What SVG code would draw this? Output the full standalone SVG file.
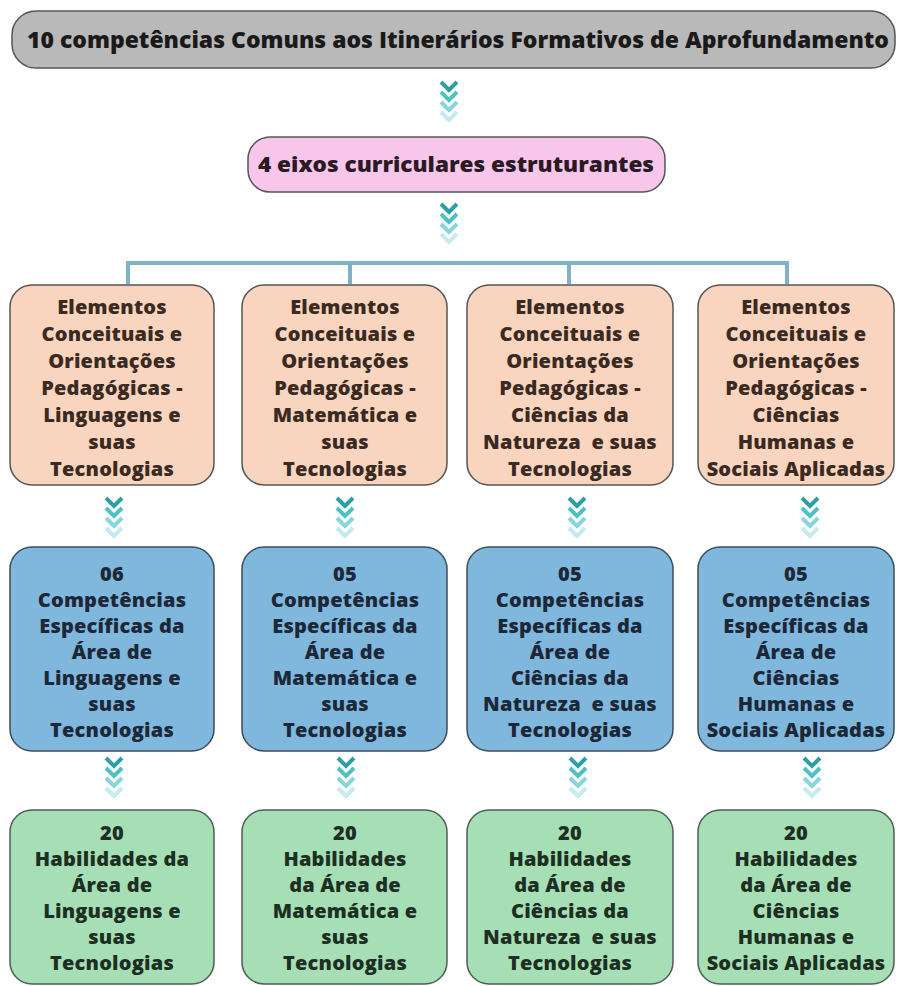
<svg xmlns="http://www.w3.org/2000/svg" width="898" height="986" viewBox="0 0 898 986">
<style>
text{font-family:"Open Sans","Noto Sans","Liberation Sans",sans-serif;font-weight:800;text-anchor:middle}
.t{font-size:20px;letter-spacing:0.2px}
.gray{fill:#b9b9b9;stroke:#555;stroke-width:1.5}
.pink{fill:#f7c6ea;stroke:#555;stroke-width:1.5}
.peach{fill:#f9d5bf;stroke:#555;stroke-width:1.5}
.blue{fill:#80b8dd;stroke:#3d4e5c;stroke-width:1.5}
.green{fill:#a6dfb6;stroke:#4e5f53;stroke-width:1.5}
.tp{fill:#3a2a22}
.tb{fill:#1c2838}
.tg{fill:#1d2f22}
.bar{stroke:#7fb1c9;stroke-width:4;fill:none}
</style>
<defs>
<g id="chev">
<polyline points="-8,0 0,8 8,0" fill="none" stroke="#2a9fa6" stroke-width="4"/>
<polyline points="-8,10 0,18 8,10" fill="none" stroke="#4fc0c4" stroke-width="4"/>
<polyline points="-8,20 0,28 8,20" fill="none" stroke="#86d6dc" stroke-width="4"/>
<polyline points="-8,30 0,38 8,30" fill="none" stroke="#c4ebef" stroke-width="4"/>
</g>
</defs>
<rect width="898" height="986" fill="#ffffff"/>
<g id="connectors">
<use href="#chev" x="449" y="82"/>
<use href="#chev" x="449" y="204"/>
<path class="bar" d="M128,284 V263 H787 V284 M350,263 V284 M569,263 V284"/>
<use href="#chev" x="114" y="498"/>
<use href="#chev" x="345" y="498"/>
<use href="#chev" x="577" y="498"/>
<use href="#chev" x="810" y="498"/>
<use href="#chev" x="114" y="758"/>
<use href="#chev" x="346" y="758"/>
<use href="#chev" x="578" y="758"/>
<use href="#chev" x="812" y="758"/>
</g>
<g id="top">
<rect class="gray" x="12" y="11" width="883" height="57" rx="24"/>
<text x="458" y="48" font-size="22" font-weight="700" fill="#1a1a1a" textLength="862" lengthAdjust="spacingAndGlyphs">10 competências Comuns aos Itinerários Formativos de Aprofundamento</text>
</g>
<g id="eixos">
<rect class="pink" x="248" y="137" width="417" height="55" rx="22"/>
<text x="456" y="172" font-size="21" fill="#2a1a24" textLength="396" lengthAdjust="spacingAndGlyphs">4 eixos curriculares estruturantes</text>
</g>
<g id="ling1">
<rect class="peach" x="10" y="285" width="204" height="200" rx="22"/>
<text class="t tp" x="112"><tspan x="112" y="314">Elementos</tspan><tspan x="112" y="341">Conceituais e</tspan><tspan x="112" y="368">Orientações</tspan><tspan x="112" y="395">Pedagógicas -</tspan><tspan x="112" y="422">Linguagens e</tspan><tspan x="112" y="449">suas</tspan><tspan x="112" y="476">Tecnologias</tspan></text>
</g>
<g id="mat1">
<rect class="peach" x="242" y="285" width="205" height="200" rx="22"/>
<text class="t tp" x="345"><tspan x="345" y="314">Elementos</tspan><tspan x="345" y="341">Conceituais e</tspan><tspan x="345" y="368">Orientações</tspan><tspan x="345" y="395">Pedagógicas -</tspan><tspan x="345" y="422">Matemática e</tspan><tspan x="345" y="449">suas</tspan><tspan x="345" y="476">Tecnologias</tspan></text>
</g>
<g id="nat1">
<rect class="peach" x="467" y="285" width="206" height="200" rx="22"/>
<text class="t tp" x="570" xml:space="preserve"><tspan x="570" y="314">Elementos</tspan><tspan x="570" y="341">Conceituais e</tspan><tspan x="570" y="368">Orientações</tspan><tspan x="570" y="395">Pedagógicas -</tspan><tspan x="570" y="422">Ciências da</tspan><tspan x="570" y="449">Natureza  e suas</tspan><tspan x="570" y="476">Tecnologias</tspan></text>
</g>
<g id="hum1">
<rect class="peach" x="698" y="285" width="196" height="200" rx="22"/>
<text class="t tp" x="796"><tspan x="796" y="314">Elementos</tspan><tspan x="796" y="341">Conceituais e</tspan><tspan x="796" y="368">Orientações</tspan><tspan x="796" y="395">Pedagógicas -</tspan><tspan x="796" y="422">Ciências</tspan><tspan x="796" y="449">Humanas e</tspan><tspan x="796" y="476">Sociais Aplicadas</tspan></text>
</g>
<g id="ling2">
<rect class="blue" x="10" y="547" width="204" height="204" rx="22"/>
<text class="t tb" x="112"><tspan x="112" y="581">06</tspan><tspan x="112" y="607">Competências</tspan><tspan x="112" y="633">Específicas da</tspan><tspan x="112" y="659">Área de</tspan><tspan x="112" y="685">Linguagens e</tspan><tspan x="112" y="711">suas</tspan><tspan x="112" y="737">Tecnologias</tspan></text>
</g>
<g id="mat2">
<rect class="blue" x="242" y="547" width="205" height="204" rx="22"/>
<text class="t tb" x="345"><tspan x="345" y="581">05</tspan><tspan x="345" y="607">Competências</tspan><tspan x="345" y="633">Específicas da</tspan><tspan x="345" y="659">Área de</tspan><tspan x="345" y="685">Matemática e</tspan><tspan x="345" y="711">suas</tspan><tspan x="345" y="737">Tecnologias</tspan></text>
</g>
<g id="nat2">
<rect class="blue" x="467" y="547" width="206" height="204" rx="22"/>
<text class="t tb" x="570" xml:space="preserve"><tspan x="570" y="581">05</tspan><tspan x="570" y="607">Competências</tspan><tspan x="570" y="633">Específicas da</tspan><tspan x="570" y="659">Área de</tspan><tspan x="570" y="685">Ciências da</tspan><tspan x="570" y="711">Natureza  e suas</tspan><tspan x="570" y="737">Tecnologias</tspan></text>
</g>
<g id="hum2">
<rect class="blue" x="698" y="547" width="196" height="204" rx="22"/>
<text class="t tb" x="796"><tspan x="796" y="581">05</tspan><tspan x="796" y="607">Competências</tspan><tspan x="796" y="633">Específicas da</tspan><tspan x="796" y="659">Área de</tspan><tspan x="796" y="685">Ciências</tspan><tspan x="796" y="711">Humanas e</tspan><tspan x="796" y="737">Sociais Aplicadas</tspan></text>
</g>
<g id="ling3">
<rect class="green" x="10" y="810" width="204" height="174" rx="22"/>
<text class="t tg" x="112"><tspan x="112" y="840">20</tspan><tspan x="112" y="866">Habilidades da</tspan><tspan x="112" y="892">Área de</tspan><tspan x="112" y="918">Linguagens e</tspan><tspan x="112" y="944">suas</tspan><tspan x="112" y="970">Tecnologias</tspan></text>
</g>
<g id="mat3">
<rect class="green" x="242" y="810" width="205" height="174" rx="22"/>
<text class="t tg" x="345"><tspan x="345" y="840">20</tspan><tspan x="345" y="866">Habilidades</tspan><tspan x="345" y="892">da Área de</tspan><tspan x="345" y="918">Matemática e</tspan><tspan x="345" y="944">suas</tspan><tspan x="345" y="970">Tecnologias</tspan></text>
</g>
<g id="nat3">
<rect class="green" x="467" y="810" width="206" height="174" rx="22"/>
<text class="t tg" x="570" xml:space="preserve"><tspan x="570" y="840">20</tspan><tspan x="570" y="866">Habilidades</tspan><tspan x="570" y="892">da Área de</tspan><tspan x="570" y="918">Ciências da</tspan><tspan x="570" y="944">Natureza  e suas</tspan><tspan x="570" y="970">Tecnologias</tspan></text>
</g>
<g id="hum3">
<rect class="green" x="698" y="810" width="196" height="174" rx="22"/>
<text class="t tg" x="796"><tspan x="796" y="840">20</tspan><tspan x="796" y="866">Habilidades</tspan><tspan x="796" y="892">da Área de</tspan><tspan x="796" y="918">Ciências</tspan><tspan x="796" y="944">Humanas e</tspan><tspan x="796" y="970">Sociais Aplicadas</tspan></text>
</g>
</svg>
